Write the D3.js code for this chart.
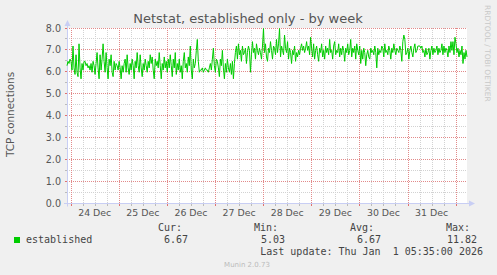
<!DOCTYPE html>
<html><head><meta charset="utf-8">
<script src="https://cdn.jsdelivr.net/npm/d3@7"></script>
<style>
html,body{margin:0;padding:0;background:#f0f0f0;}
svg{display:block;}
text{font-family:"DejaVu Sans",sans-serif;}
.mono{font-family:"DejaVu Sans Mono",monospace;}
</style></head>
<body>
<script>
// ---- data ----
const title = "Netstat, established only - by week";
const yLabel = "TCP connections";
const seriesName = "established";
const startTime = new Date(Date.UTC(2025, 11, 23, 22, 10));
const endTime = new Date(Date.UTC(2026, 0, 1, 5, 40));
const stepMinutes = 30;
const yTicks = [0, 1, 2, 3, 4, 5, 6, 7, 8];
const dayLabels = ["24 Dec", "25 Dec", "26 Dec", "27 Dec", "28 Dec", "29 Dec", "30 Dec", "31 Dec"];
const statHeaders = ["Cur:", "Min:", "Avg:", "Max:"];
const statValues = ["6.67", "5.03", "6.67", "11.82"];
const lastUpdate = "Last update: Thu Jan  1 05:35:00 2026";
const footer = "Munin 2.0.73";
const watermark = "RRDTOOL / TOBI OETIKER";
const established = [
 6.3,6.5,6.4,6.6,6.5,6.1,7.2,6.2,5.9,6.8,
 6.0,5.8,7.3,6.2,5.7,6.4,6.1,6.5,6.5,6.3,
 6.4,6.2,6.3,6.1,6.4,6.0,6.5,6.3,5.9,6.4,
 6.9,6.2,5.7,6.8,6.1,6.6,7.3,6.5,6.0,6.9,
 6.2,5.7,6.6,6.3,6.8,6.0,5.8,6.5,6.1,6.4,
 6.3,6.1,6.5,6.2,5.7,6.3,6.0,6.4,6.6,6.0,
 6.8,6.2,5.9,6.4,6.1,6.6,6.3,5.7,6.5,6.2,
 6.9,6.3,6.0,6.8,6.2,5.8,6.4,6.1,6.6,6.3,
 6.0,6.5,6.2,6.8,6.4,6.7,6.1,5.7,6.6,6.3,
 6.5,6.2,6.9,6.3,5.7,6.4,6.1,6.7,6.2,6.5,
 6.0,6.6,6.2,6.8,6.3,5.8,6.6,6.2,6.9,5.9,
 6.4,6.1,6.6,6.0,6.3,5.7,6.5,6.9,6.2,6.4,
 6.0,6.7,6.3,7.2,6.1,5.7,6.6,6.2,6.4,7.0,
 7.5,6.5,6.0,6.1,6.1,6.2,6.0,6.1,6.2,6.1,
 6.1,6.0,6.2,6.4,6.1,6.6,7.1,6.3,6.0,6.6,
 6.5,6.2,5.8,6.6,6.3,7.0,6.2,5.7,6.4,6.0,
 6.6,6.2,6.0,6.4,5.9,6.5,5.7,6.4,6.9,7.2,
 6.6,7.3,6.8,7.0,6.5,7.2,6.8,6.9,7.1,6.4,
 6.9,7.2,7.0,6.0,6.8,7.4,6.9,7.1,6.6,7.3,
 7.0,6.8,7.1,6.9,6.6,7.2,8.0,6.9,7.3,6.7,
 6.5,7.1,6.9,7.4,7.0,6.6,7.2,7.1,6.8,7.5,
 6.9,7.3,8.0,6.7,7.2,7.0,6.8,7.7,7.1,6.9,
 7.4,6.6,7.1,6.9,6.4,7.0,6.8,7.2,6.5,6.9,
 6.7,7.0,6.8,7.1,7.3,7.0,7.2,6.9,7.1,7.4,
 7.0,7.2,6.8,7.6,7.1,6.7,7.3,6.6,7.0,7.2,
 6.8,6.5,7.1,6.9,7.3,6.7,7.0,6.6,7.2,6.9,
 7.1,6.8,7.5,6.9,7.0,6.6,7.2,7.4,6.8,7.0,
 6.9,7.3,6.7,7.1,6.8,7.2,7.0,6.5,7.1,6.9,
 7.3,6.8,7.0,7.5,6.7,7.1,6.9,7.2,6.6,7.3,
 7.0,6.8,7.2,6.4,7.0,6.6,7.1,6.9,6.3,6.8,
 7.0,6.7,6.6,7.1,6.9,7.0,6.8,7.2,6.9,6.2,
 7.1,6.8,7.0,6.9,7.2,7.1,6.7,7.3,6.9,7.0,
 6.8,7.2,7.0,6.6,7.1,6.9,7.3,7.0,6.8,7.1,
 7.0,6.9,7.2,7.0,6.5,7.4,7.7,7.5,6.8,6.9,
 7.1,6.6,7.0,7.2,6.9,6.7,7.1,7.3,6.9,7.0,
 7.2,7.2,7.2,7.1,7.2,6.9,7.0,6.7,7.1,6.8,
 6.9,7.1,6.6,7.0,7.2,6.8,7.1,6.9,7.0,7.2,
 6.8,7.1,6.9,7.0,7.3,6.8,7.2,6.9,7.1,7.0,
 6.7,7.2,6.9,7.4,7.0,7.4,6.8,7.6,7.3,6.9,
 7.1,6.7,7.0,6.8,7.2,6.4,6.9,6.6,7.0,6.7
];

// ---- layout ----
const W = 497, H = 275;
const L = 67, R = 467, T = 28.5, B = 203.5;
const svg = d3.select("body").append("svg").attr("width", W).attr("height", H);
svg.append("rect").attr("width", W).attr("height", H).attr("fill", "#f0f0f0");
svg.append("rect").attr("x", L).attr("y", 28).attr("width", R - L).attr("height", 176).attr("fill", "#ffffff");

const x = d3.scaleUtc().domain([startTime, endTime]).range([L, R]);
const y = d3.scaleLinear().domain([0, 8]).range([B, T]);
const px = v => Math.round(v) + 0.5;

const majorCol = "#e28a8a", minorCol = "#d2d2d2";
const gMinor = svg.append("g").attr("shape-rendering", "crispEdges");
const gMajor = svg.append("g").attr("shape-rendering", "crispEdges");

// vertical grid: 6h minor, midnight major — dots drawn as 1px rects
const dayTimes = d3.utcDay.range(d3.utcDay.ceil(startTime), endTime);
const sixH = d3.utcHour.range(startTime, endTime, 1).filter(t => t.getUTCHours() % 6 === 0 && t.getUTCHours() !== 0);
const dotRows = d3.range(28, 203, 2);
function vDots(g, times, col) {
  times.forEach(t => {
    const xx = Math.round(x(t));
    g.append("g").selectAll("rect").data(dotRows).join("rect")
      .attr("x", xx).attr("y", d => d).attr("width", 1).attr("height", 1).attr("fill", col);
    g.append("rect").attr("x", xx).attr("y", 203).attr("width", 1).attr("height", 3)
      .attr("fill", col === majorCol ? "#e07070" : "#bbbbbb");
  });
}
vDots(gMinor, sixH, minorCol);
vDots(gMajor, dayTimes, majorCol);

// horizontal grid
d3.range(0, 8.01, 0.5).forEach(v => {
  const yy = px(y(v)) - 1;
  const major = Number.isInteger(v);
  const g = major ? gMajor : gMinor;
  if (v > 0) g.append("line").attr("x1", L).attr("x2", R).attr("y1", yy).attr("y2", yy)
    .attr("stroke", major ? majorCol : minorCol).attr("stroke-dasharray", "1,1");
  g.append("line").attr("x1", L - 2).attr("x2", L).attr("y1", yy).attr("y2", yy)
    .attr("stroke", major ? "#e07070" : "#bbbbbb");
});

// y tick labels
svg.append("g").selectAll("text").data(yTicks).join("text")
  .attr("x", 61).attr("y", d => px(y(d)) - 1 + 3.5)
  .attr("text-anchor", "end").attr("font-size", 9.6).attr("fill", "#555")
  .text(d => d.toFixed(1));

// x labels at noon
svg.append("g").selectAll("text").data(dayTimes.slice(0, dayLabels.length)).join("text")
  .attr("x", d => x(d3.utcHour.offset(d, 12)))
  .attr("y", 216).attr("text-anchor", "middle").attr("font-size", 9.4).attr("fill", "#555")
  .text((d, i) => dayLabels[i]);

// axes
svg.append("line").attr("x1", L - 3).attr("x2", 470).attr("y1", B).attr("y2", B).attr("stroke", "#c8cef4");
svg.append("line").attr("x1", L + 0.5).attr("x2", L + 0.5).attr("y1", B + 3).attr("y2", 25).attr("stroke", "#c8cef4");
svg.append("path").attr("d", `M${L - 2.5},${26} L${L + 3.5},${26} L${L + 0.5},${20} Z`).attr("fill", "#c8cef4");
svg.append("path").attr("d", `M${469},${B - 3} L${469},${B + 3} L${475},${B} Z`).attr("fill", "#c8cef4");

// line
const line = d3.line()
  .x((d, i) => x(new Date(startTime.getTime() + i * stepMinutes * 60000)))
  .y(d => y(d));
svg.append("path").datum(established).attr("d", line)
  .attr("fill", "none").attr("stroke", "#00cc00").attr("stroke-width", 1);

// title
svg.append("text").attr("x", 248).attr("y", 23).attr("text-anchor", "middle")
  .attr("font-size", 13).attr("fill", "#555").text(title);
// y label
svg.append("text").attr("transform", "translate(14,114.5) rotate(-90)").attr("text-anchor", "middle")
  .attr("font-size", 10.4).attr("fill", "#555").text(yLabel);
// watermark
svg.append("text").attr("transform", "translate(485,5) rotate(90)").attr("text-anchor", "start")
  .attr("font-size", 7.5).attr("fill", "#c8c8c8").text(watermark);

// legend
svg.append("rect").attr("x", 14).attr("y", 237).attr("width", 6).attr("height", 6).attr("fill", "#00cc00");
const mono = svg.append("g").attr("class", "mono").attr("font-size", 10).attr("fill", "#444");
mono.append("text").attr("class", "mono").attr("x", 26).attr("y", 243).text(seriesName);
const headX = [182, 278, 374, 470];
const valX = [188, 285, 381, 477];
statHeaders.forEach((h, i) => {
  mono.append("text").attr("class", "mono").attr("x", headX[i]).attr("y", 231).attr("text-anchor", "end").text(h);
  mono.append("text").attr("class", "mono").attr("x", valX[i]).attr("y", 243).attr("text-anchor", "end").text(statValues[i]);
});
mono.append("text").attr("class", "mono").attr("x", 483).attr("y", 255).attr("text-anchor", "end")
  .attr("xml:space", "preserve").style("white-space", "pre").text(lastUpdate);
svg.append("text").attr("x", 247).attr("y", 267).attr("text-anchor", "middle")
  .attr("font-size", 7).attr("fill", "#bbbbbb").text(footer);
</script>
</body></html>
